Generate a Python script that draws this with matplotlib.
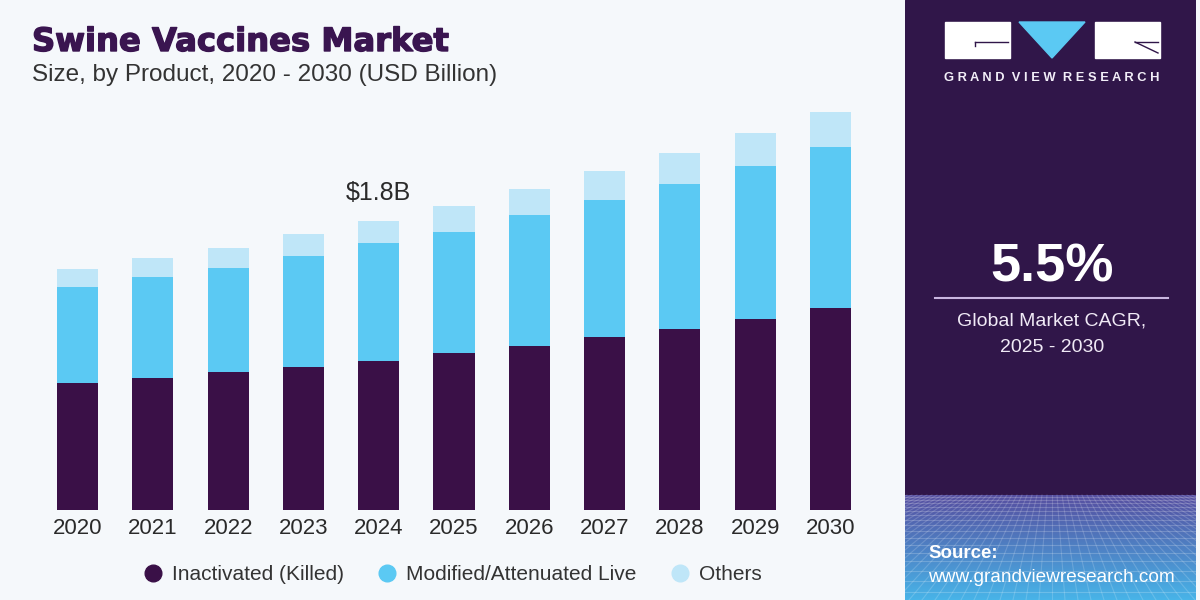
import numpy as np
import matplotlib
matplotlib.use("Agg")
import matplotlib.pyplot as plt
import matplotlib.patheffects as pe
from matplotlib.lines import Line2D
from matplotlib.patches import Rectangle, Polygon

years = ["2020", "2021", "2022", "2023", "2024", "2025", "2026", "2027", "2028", "2029", "2030"]
inactivated = [0.79, 0.82, 0.86, 0.89, 0.93, 0.98, 1.02, 1.08, 1.13, 1.19, 1.26]
modified_live = [0.60, 0.63, 0.65, 0.69, 0.73, 0.75, 0.82, 0.85, 0.90, 0.95, 1.00]
others = [0.11, 0.12, 0.12, 0.14, 0.14, 0.16, 0.16, 0.18, 0.19, 0.21, 0.22]
series_names = ["Inactivated (Killed)", "Modified/Attenuated Live", "Others"]
annot_year = "2024"
annot_text = "$1.8B"
cagr_text = "5.5%"

C_DARK = "#3a1047"
C_BLUE = "#5bc9f3"
C_LIGHT = "#bfe6f8"
BG = "#f5f8fb"
PANEL = "#301649"
FONT = ["Liberation Sans", "DejaVu Sans"]

plt.rcParams["font.family"] = FONT

W, H = 1200, 600
fig = plt.figure(figsize=(12, 6), dpi=100, facecolor=BG)

# ---- main bar chart ----
ax = fig.add_axes([40 / W, 1 - 510 / H, 828 / W, 410 / H])
ax.set_facecolor(BG)
x = np.arange(len(years))
bw = 0.545
b1 = np.array(inactivated)
b2 = np.array(modified_live)
b3 = np.array(others)
ax.bar(x, b1, bw, color=C_DARK, label=series_names[0])
ax.bar(x, b2, bw, bottom=b1, color=C_BLUE, label=series_names[1])
ax.bar(x, b3, bw, bottom=b1 + b2, color=C_LIGHT, label=series_names[2])
ax.set_xlim(-0.5, len(years) - 0.5)
ax.set_ylim(0, 2.553)
ax.set_xticks(x)
ax.set_xticklabels(years, fontsize=16, color="#2a2a2a")
ax.tick_params(axis="x", length=0, pad=6)
ax.set_yticks([])
for s in ax.spines.values():
    s.set_visible(False)

i = years.index(annot_year)
tot = b1[i] + b2[i] + b3[i]
ax.text(x[i], tot + 0.1, annot_text, ha="center", va="bottom", fontsize=18, color="#2a2a2a")

# titles
fig.text(32 / W, 1 - 51 / H, "Swine Vaccines Market", fontsize=23.2, fontweight="bold",
         family=["DejaVu Sans"], color="#3a1550", ha="left", va="baseline",
         path_effects=[pe.withStroke(linewidth=1.0, foreground="#3a1550")])
fig.text(32 / W, 1 - 81 / H, "Size, by Product, 2020 - 2030 (USD Billion)", fontsize=17.5,
         color="#333333", ha="left", va="baseline")

# legend
handles = [Line2D([0], [0], marker="o", linestyle="none", markersize=12, markerfacecolor=c,
                  markeredgecolor=c) for c in (C_DARK, C_BLUE, C_LIGHT)]
fig.legend(handles, series_names, loc="center", bbox_to_anchor=(452 / W, 1 - 575 / H), ncol=3,
           frameon=False, prop={"size": 15}, handlelength=1.0, handletextpad=0.4,
           columnspacing=1.6, labelcolor="#333333")

# ---- right panel ----
px0 = 905
pa = fig.add_axes([px0 / W, 0, (W - px0 - 4) / W, 1])
pa.set_xlim(px0, W - 4)
pa.set_ylim(H, 0)
pa.axis("off")
pa.add_patch(Rectangle((px0, 0), W - px0, 495, color=PANEL, zorder=0))

# gradient bottom
grad = np.linspace(0, 1, 100)[:, None]
c_top = np.array([0x55, 0x4e, 0xa0]) / 255
c_bot = np.array([0x48, 0xb4, 0xe8]) / 255
img = c_top[None, None, :] * (1 - grad[:, :, None]) + c_bot[None, None, :] * grad[:, :, None]
img = np.repeat(img, 2, axis=1)
pa.imshow(img, extent=(px0, W, H, 495), aspect="auto", zorder=1)
# perspective grid
yy = 497
step = 3
while yy < H:
    pa.plot([px0, W], [yy, yy], color="white", alpha=0.2, lw=0.8, zorder=2)
    yy += step
    step *= 1.1
for k in range(-60, 61):
    xt = 1052 + k * 5
    xb = 1052 + k * 13
    pa.plot([xt, xb], [495, H], color="white", alpha=0.17, lw=0.8, zorder=2)

# logo
pa.add_patch(Rectangle((945, 22), 65, 36, color="white", zorder=3))
pa.plot([975, 1008], [42, 42], color=PANEL, lw=1.0, zorder=4)
pa.plot([975, 975], [42, 46], color=PANEL, lw=1.0, zorder=4)
pa.add_patch(Polygon([[1019, 22], [1085, 22], [1052, 58]], closed=True, color=C_BLUE, zorder=3))
pa.add_patch(Rectangle((1095, 22), 65, 36, color="white", zorder=3))
pa.plot([1135, 1158], [42, 42], color=PANEL, lw=1.0, zorder=4)
pa.plot([1135, 1158], [42, 53], color=PANEL, lw=1.0, zorder=4)
pa.text(1052, 78, "G R A N D  V I E W  R E S E A R C H", color="#f2eef8",
        fontsize=9.3, fontweight="bold", ha="center", va="center", zorder=4)

pa.text(1052, 267, cagr_text, color="white", fontsize=39, fontweight="bold",
        ha="center", va="center", zorder=4)
pa.plot([935, 1168], [298, 298], color="#c9b6e0", lw=1.5, zorder=4)
pa.text(1052, 321, "Global Market CAGR,", color="#f0eaf6", fontsize=14,
        ha="center", va="center", zorder=4)
pa.text(1052, 347, "2025 - 2030", color="#f0eaf6", fontsize=14,
        ha="center", va="center", zorder=4)

pa.text(928, 553, "Source:", color="white", fontsize=13.5, fontweight="bold",
        ha="left", va="center", zorder=4)
pa.text(928, 577, "www.grandviewresearch.com", color="white", fontsize=13.7,
        ha="left", va="center", zorder=4)

fig.savefig("out.png", dpi=100, facecolor=BG)
